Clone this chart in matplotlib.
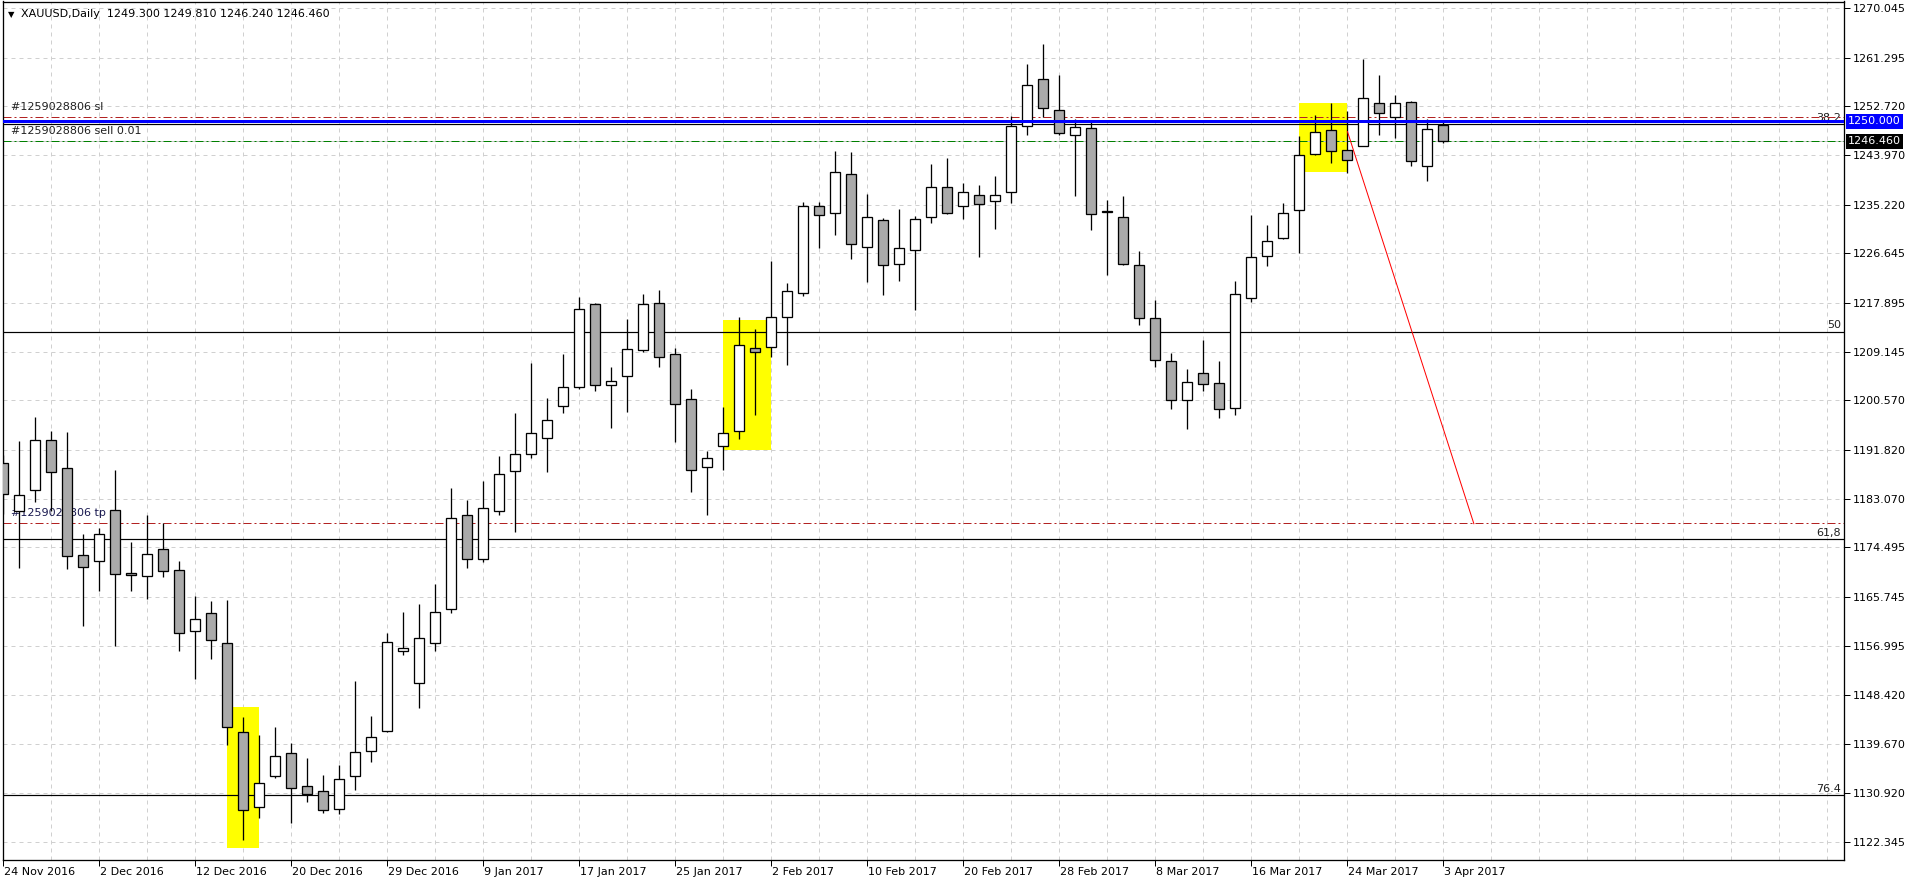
import matplotlib
matplotlib.use("Agg")
import matplotlib.pyplot as plt
from matplotlib.patches import Rectangle
import matplotlib.transforms as mtransforms

# daily XAUUSD candles, 24 Nov 2016 .. 3 Apr 2017
opens = [1189.4, 1180.9, 1184.6, 1193.5, 1188.5, 1173.1, 1172.1, 1181.1, 1170.0, 1169.4,
         1174.2, 1170.5, 1159.7, 1162.9, 1157.5, 1141.8, 1128.5, 1134.0, 1138.0, 1132.2,
         1131.4, 1128.2, 1133.9, 1138.4, 1142.0, 1156.2, 1150.4, 1157.5, 1163.5, 1180.2,
         1172.4, 1180.9, 1188.0, 1191.0, 1193.9, 1199.6, 1203.0, 1217.6, 1203.3, 1204.8,
         1209.4, 1217.9, 1208.8, 1200.8, 1188.8, 1192.5, 1195.2, 1209.9, 1210.0, 1215.4,
         1219.6, 1235.0, 1233.7, 1240.7, 1227.7, 1232.5, 1224.8, 1227.2, 1233.1, 1238.4,
         1235.0, 1237.0, 1235.9, 1237.4, 1249.2, 1257.6, 1252.1, 1247.6, 1248.9, 1234.1,
         1233.1, 1224.6, 1215.2, 1207.5, 1200.6, 1205.4, 1203.7, 1199.2, 1218.7, 1226.2,
         1229.4, 1234.3, 1244.3, 1248.4, 1245.0, 1245.7, 1253.3, 1250.7, 1253.5, 1242.1,
         1249.30]
highs = [1190.9, 1193.4, 1197.6, 1195.1, 1195.0, 1176.8, 1177.9, 1188.2, 1175.5, 1180.3,
         1178.8, 1172.1, 1165.9, 1165.0, 1165.2, 1144.5, 1141.3, 1142.6, 1139.8, 1137.2,
         1134.1, 1135.9, 1150.8, 1144.6, 1159.4, 1163.1, 1164.4, 1168.0, 1185.1, 1182.9,
         1186.3, 1190.7, 1198.4, 1207.1, 1201.0, 1208.7, 1218.9, 1217.8, 1206.4, 1214.9,
         1219.4, 1220.1, 1209.8, 1202.5, 1191.5, 1199.3, 1215.3, 1213.2, 1225.3, 1221.3,
         1235.8, 1235.8, 1244.8, 1244.6, 1237.2, 1232.9, 1234.5, 1233.3, 1242.4, 1243.6,
         1239.0, 1238.8, 1240.3, 1251.0, 1260.1, 1263.8, 1258.3, 1250.5, 1249.9, 1236.1,
         1236.7, 1227.1, 1218.4, 1209.0, 1206.1, 1211.2, 1207.6, 1221.8, 1233.5, 1231.6,
         1235.5, 1247.5, 1251.2, 1253.2, 1251.8, 1261.0, 1258.3, 1254.6, 1253.7, 1250.5,
         1249.81]
lows = [1180.4, 1170.9, 1182.6, 1181.0, 1170.6, 1160.6, 1166.7, 1157.1, 1166.8, 1165.4,
        1169.2, 1156.2, 1151.2, 1154.7, 1139.4, 1122.6, 1126.6, 1133.6, 1125.6, 1129.4,
        1127.5, 1127.3, 1131.5, 1136.5, 1141.7, 1155.5, 1146.1, 1156.2, 1162.9, 1170.8,
        1172.0, 1180.2, 1177.2, 1190.4, 1187.8, 1198.3, 1202.6, 1202.2, 1195.6, 1198.5,
        1209.1, 1206.5, 1193.1, 1184.3, 1180.3, 1188.2, 1193.7, 1197.9, 1208.3, 1206.8,
        1219.1, 1227.6, 1229.9, 1225.7, 1221.5, 1219.2, 1221.7, 1216.5, 1232.0, 1233.6,
        1232.7, 1225.9, 1230.9, 1235.5, 1247.6, 1250.8, 1247.6, 1236.8, 1230.7, 1222.7,
        1224.5, 1214.0, 1206.4, 1199.0, 1195.5, 1202.3, 1197.5, 1198.0, 1218.0, 1224.3,
        1229.1, 1226.7, 1244.0, 1242.6, 1240.8, 1245.7, 1247.6, 1247.0, 1242.1, 1239.4,
        1246.24]
closes = [1183.9, 1183.8, 1193.5, 1187.8, 1172.9, 1171.0, 1176.8, 1169.8, 1169.6, 1173.3,
          1170.3, 1159.3, 1161.8, 1158.1, 1142.7, 1128.0, 1132.7, 1137.5, 1131.8, 1130.8,
          1128.0, 1133.4, 1138.3, 1140.9, 1157.7, 1156.7, 1158.4, 1163.0, 1179.8, 1172.4,
          1181.4, 1187.5, 1191.0, 1194.8, 1197.0, 1202.9, 1216.7, 1203.3, 1204.0, 1209.7,
          1217.6, 1208.3, 1200.0, 1188.2, 1190.4, 1194.8, 1210.3, 1209.2, 1215.4, 1219.9,
          1235.0, 1233.4, 1241.0, 1228.2, 1233.0, 1224.6, 1227.6, 1232.7, 1238.4, 1233.8,
          1237.4, 1235.4, 1237.0, 1249.2, 1256.5, 1252.4, 1247.9, 1249.0, 1233.6, 1234.0,
          1224.7, 1215.2, 1207.7, 1200.6, 1203.8, 1203.5, 1199.0, 1219.4, 1226.0, 1228.8,
          1233.8, 1244.1, 1248.2, 1244.8, 1243.2, 1254.2, 1251.5, 1253.3, 1242.9, 1248.7,
          1246.46]

date_labels = ["24 Nov 2016", "2 Dec 2016", "12 Dec 2016", "20 Dec 2016", "29 Dec 2016",
               "9 Jan 2017", "17 Jan 2017", "25 Jan 2017", "2 Feb 2017", "10 Feb 2017",
               "20 Feb 2017", "28 Feb 2017", "8 Mar 2017", "16 Mar 2017", "24 Mar 2017",
               "3 Apr 2017"]
price_ticks = [1270.045, 1261.295, 1252.720, 1243.970, 1235.220, 1226.645, 1217.895,
               1209.145, 1200.570, 1191.820, 1183.070, 1174.495, 1165.745, 1156.995,
               1148.420, 1139.670, 1130.920, 1122.345]

# order lines
order_id = "#1259028806"
sl_price = 1250.85
sell_price = 1246.6
tp_price = 1178.75
alert_price = 1250.0
bid_price = 1246.46

# fibonacci retracement anchors and levels
fib_0 = 1368.45
fib_100 = 1057.05
fib_levels = [38.2, 50.0, 61.8, 76.4]
fib_names = ["38.2", "50", "61,8", "76.4"]

# highlighted boxes: (bar from, bar to, price top, price bottom)
boxes = [(14, 16, 1146.3, 1121.3), (45, 48, 1214.8, 1191.8), (81, 84, 1253.2, 1241.0)]

# red projection line: (bar, price) -> (bar, price)
proj_start = (84, 1248.2)
proj_end = (91.9, 1178.7)

W, H = 1910, 884
fig = plt.figure(figsize=(W / 100, H / 100), dpi=100)
ax = fig.add_axes([2.5 / W, 24 / H, 1841 / W, 858.5 / H])
ax.set_xlim(-0.05, 115.0)
ax.set_ylim(1119.1, 1271.25)

px = 0.72  # one pixel in points

# grid
for p in price_ticks:
    ax.axhline(p, color="#d0d0d0", lw=px, ls=(0, (4, 4)), zorder=0)
for b in range(3, 116, 3):
    ax.axvline(b, color="#d0d0d0", lw=px, ls=(0, (4, 4)), zorder=0)

# yellow boxes
for b0, b1, top, bot in boxes:
    ax.add_patch(Rectangle((b0, bot), b1 - b0, top - bot, fc="#ffff00", ec="none", zorder=1))

# fib levels
for lv, name in zip(fib_levels, fib_names):
    price = fib_0 - (fib_0 - fib_100) * lv / 100
    ax.axhline(price, color="black", lw=1.2 * px, zorder=2)
    ax.text(114.85, price + 0.25, name, ha="right", va="bottom", fontsize=8, color="#202020", zorder=2)

# order lines
ax.axhline(sl_price, color="#b22222", lw=px, ls=(0, (8, 3, 2, 3)), zorder=2)
ax.axhline(tp_price, color="#b22222", lw=px, ls=(0, (8, 3, 2, 3)), zorder=2)
ax.axhline(bid_price, color="#c8c8c8", lw=px, zorder=2)
ax.axhline(sell_price, color="#008000", lw=px, ls=(0, (8, 3, 2, 3)), zorder=2)
ax.text(0.45, sl_price + 0.9, order_id + " sl", fontsize=8, color="#202020", va="bottom", zorder=2)
ax.text(0.45, sell_price + 0.9, order_id + " sell 0.01", fontsize=8, color="#202020", va="bottom", zorder=2)
ax.text(0.45, tp_price + 0.9, order_id + " tp", fontsize=8, color="#1a1a50", va="bottom", zorder=2)
ax.axhline(alert_price, color="#0000ff", lw=3 * px, zorder=4)

# projection line
ax.plot([proj_start[0], proj_end[0]], [proj_start[1], proj_end[1]], color="#ff0000", lw=px, zorder=4)

# candles
idx = list(range(len(opens)))
ax.vlines(idx, lows, highs, color="black", lw=1.3 * px, zorder=3)
bottoms = [min(o, c) for o, c in zip(opens, closes)]
heights = [max(abs(c - o), 0.12) for o, c in zip(opens, closes)]
fills = ["white" if c >= o else "#aaaaaa" for o, c in zip(opens, closes)]
ax.bar(idx, heights, bottom=bottoms, width=0.62, color=fills, edgecolor="black", lw=1.3 * px, zorder=3)

# header
ax.text(0.0046, 0.985, "\u25bc", transform=ax.transAxes, fontsize=6, va="center", ha="center")
ax.text(0.0102, 0.985, "XAUUSD,Daily  %.3f %.3f %.3f %.3f" % (opens[-1], highs[-1], lows[-1], closes[-1]),
        transform=ax.transAxes, fontsize=8, va="center", ha="left")

# axes styling
for s in ax.spines.values():
    s.set_color("black")
    s.set_linewidth(1.3 * px)
ax.yaxis.tick_right()
ax.set_yticks(price_ticks)
ax.set_yticklabels(["%.3f" % p for p in price_ticks], fontsize=8)
ax.tick_params(axis="y", length=4, width=px, pad=3, colors="black")

label_bars = list(range(0, len(opens), 6))
ax.set_xticks(label_bars)
ax.set_xticklabels(date_labels, fontsize=8, ha="left")
ax.tick_params(axis="x", length=4, width=px, pad=1, colors="black")
off = mtransforms.ScaledTranslation(1 / 100, 0, fig.dpi_scale_trans)
for lab in ax.get_xticklabels():
    lab.set_transform(lab.get_transform() + off)

# price boxes on the right scale
tr = mtransforms.blended_transform_factory(ax.transAxes, ax.transData)
ax.text(1.0025, alert_price, "%.3f" % alert_price, transform=tr, fontsize=8, color="white", va="center",
        ha="left", bbox=dict(boxstyle="square,pad=0.2", fc="#0000ff", ec="none"), zorder=6, clip_on=False)
ax.text(1.0025, bid_price, "%.3f" % bid_price, transform=tr, fontsize=8, color="white", va="center",
        ha="left", bbox=dict(boxstyle="square,pad=0.2", fc="black", ec="none"), zorder=6, clip_on=False)

fig.savefig("out.png", dpi=100, facecolor="white")
